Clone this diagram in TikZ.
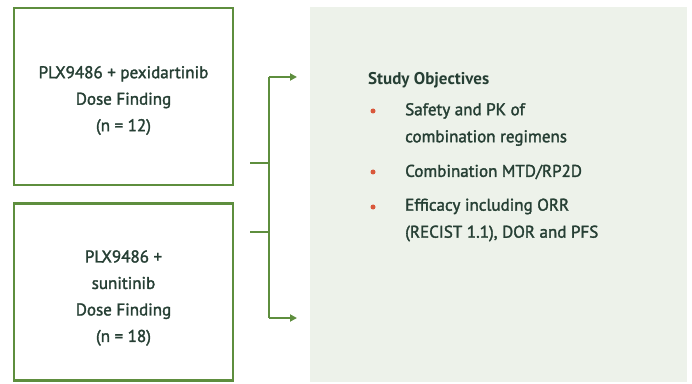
\documentclass[tikz,border=0pt]{standalone}
\usepackage{fontspec}
\setmainfont{PT Sans}
\newfontfamily\medfont[FakeBold=1.8]{PT Sans}
\usetikzlibrary{arrows.meta,positioning,calc}
\usepackage{xcolor}
\definecolor{armgreen}{HTML}{5E8E3E}
\definecolor{panelbg}{HTML}{EDF2EA}
\definecolor{txtgreen}{HTML}{263F34}
\definecolor{bulletred}{HTML}{D9583B}
\tikzset{
	arm/.style={draw=armgreen, line width=2.8pt, minimum width=219pt, minimum height=177pt},
	armtext/.style={align=center, text=txtgreen, font=\medfont\fontsize{17}{26.5}\selectfont},
	obj/.style={anchor=west, align=left, text=txtgreen, inner sep=0pt, font=\medfont\fontsize{17}{27}\selectfont},
	dot/.style={circle, fill=bulletred, inner sep=0pt, minimum size=5pt},
	link/.style={armgreen, line width=2.2pt}
}
\begin{document}
\begin{tikzpicture}[x=1pt, y=1pt]
\useasboundingbox (0,0) rectangle (692,383);
\fill[panelbg] (310,1) rectangle (687,376);
\node[arm](arm1) at (123.5,286.5){};
\node[arm](arm2) at (123.5,91){};
\node[armtext](lab1) at ([yshift=-4pt]arm1.center){PLX9486 + pexidartinib\\Dose Finding\\(n = 12)};
\node[armtext](lab2) at ([yshift=-6pt]arm2.center){PLX9486 +\\sunitinib\\Dose Finding\\(n = 18)};
\coordinate(s1) at ([xshift=16pt]arm1.east |- 0,220);
\coordinate(s2) at ([xshift=16pt]arm2.east |- 0,151);
\coordinate(j1) at (269,220);
\coordinate(j2) at (269,151);
\coordinate(t1) at (297,306);
\coordinate(t2) at (297,65);
\draw[link](s1)--(j1) (s2)--(j2)
	(t1-|j1)--(t2-|j1);
\draw[link,-{Triangle[length=7pt,width=7pt]}](t1-|j1)--(t1);
\draw[link,-{Triangle[length=7pt,width=7pt]}](t2-|j1)--(t2);
\node[obj, font=\fontsize{17}{27}\selectfont\bfseries](title) at (368,303){Study Objectives};
\node[obj](o1) at (405,258.5){Safety and PK of\\combination regimens};
\node[obj](o2) at (405,211){Combination MTD/RP2D};
\node[obj](o3) at (405,163){Efficacy including ORR\\(RECIST 1.1), DOR and PFS};
\node[dot] at (373,272){};
\node[dot] at (373,211){};
\node[dot] at (373,176){};
\end{tikzpicture}
\end{document}
